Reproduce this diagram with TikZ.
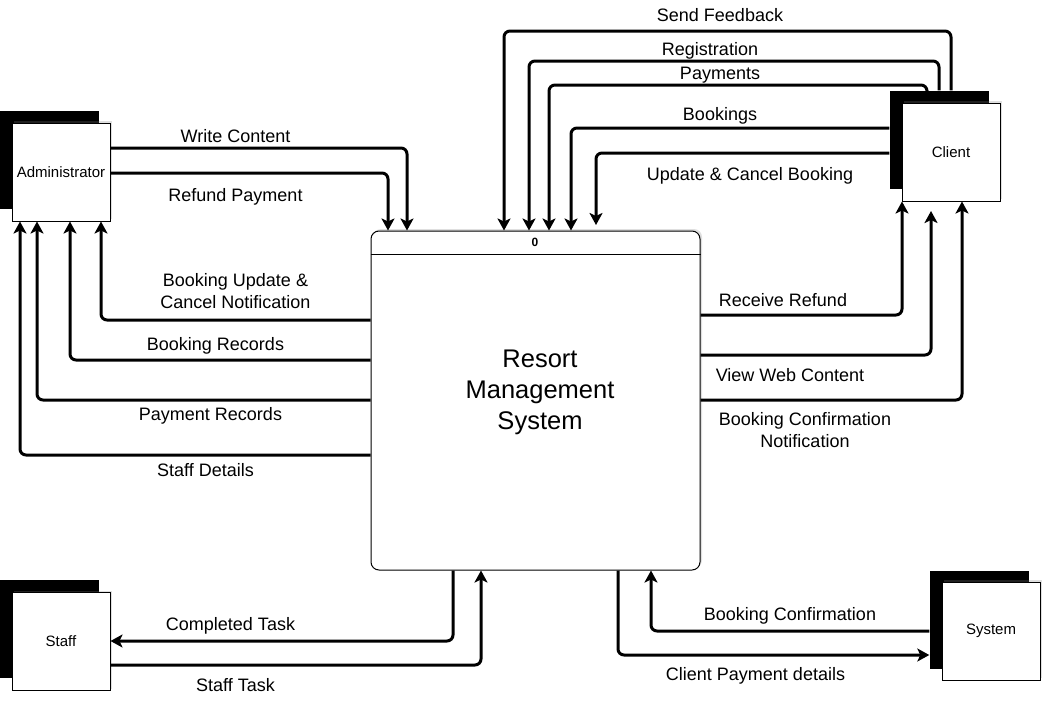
\documentclass[tikz,border=0pt]{standalone}
\usepackage{fontspec}
\setmainfont{Liberation Sans}
\usetikzlibrary{arrows.meta,shadows}
\begin{document}
\begin{tikzpicture}[x=1pt,y=-1pt,
  ent/.style={draw=black, line width=1, fill=white, minimum width=98, minimum height=98, inner sep=0, font=\fontsize{15}{18}\selectfont,
    drop shadow={opacity=0.25, shadow xshift=2, shadow yshift=-2}},
  entsh/.style={fill=black, minimum width=99, minimum height=98, inner sep=0},
  flow/.style={line width=3, rounded corners=6, -{Stealth[length=12,width=13,inset=3]}},
  lbl/.style={font=\fontsize{18}{22}\selectfont, inner sep=0, align=center, yshift=-1.5}]
\useasboundingbox (0,0) rectangle (1062,712);

% process
\node[draw, line width=1, rounded corners=8, minimum width=329, minimum height=339, inner sep=0, fill=white,
  drop shadow={opacity=0.25, shadow xshift=2, shadow yshift=-2}] (proc) at (535.5,400.5) {};
\draw[line width=1] (proc.west |- 0,254) -- (proc.east |- 0,254);
\node[font=\bfseries\fontsize{12}{14}\selectfont, inner sep=0] (pnum) at (535,242) {0};
\node[font=\fontsize{25.5}{31}\selectfont, align=center, inner sep=0] (ptitle) at (540,392) {Resort\\Management\\System};

% entities
\node[entsh] (adminsh) at (49.5,159.5) {};
\node[ent] (admin) at (61,172) {Administrator};
\node[entsh] (clientsh) at (939,139.5) {};
\node[ent] (client) at (951,152) {Client};
\node[entsh] (staffsh) at (49.5,628.5) {};
\node[ent] (staff) at (61,641.5) {Staff};
\node[entsh] (systemsh) at (979,619.5) {};
\node[ent] (system) at (991,631) {System};

\coordinate (ucb) at (596,225);
\coordinate (vwc) at (931,211);

% administrator flows
\draw[flow] (admin.east |- 0,148) -| (proc.north -| 407,0);
\draw[flow] (admin.east |- 0,173) -| (proc.north -| 388,0);
\draw[flow] (proc.west |- 0,320) -| (admin.south -| 101,0);
\draw[flow] (proc.west |- 0,360) -| (admin.south -| 70,0);
\draw[flow] (proc.west |- 0,400) -| (admin.south -| 37,0);
\draw[flow] (proc.west |- 0,455) -| (admin.south -| 20,0);

% client flows
\draw[flow] (clientsh.north -| 951,0) -- (951,31) -- (504,31) -- (proc.north -| 504,0);
\draw[flow] (clientsh.north -| 939,0) -- (939,61) -- (529,61) -- (proc.north -| 529,0);
\draw[flow] (clientsh.north -| 927,0) -- (927,85) -- (549,85) -- (proc.north -| 549,0);
\draw[flow] (clientsh.west |- 0,128) -| (proc.north -| 571,0);
\draw[flow] (clientsh.west |- 0,153) -| (ucb);
\draw[flow] (proc.east |- 0,315) -| (client.south -| 902,0);
\draw[flow] (proc.east |- 0,355) -| (vwc);
\draw[flow] (proc.east |- 0,400) -| (client.south -| 962,0);

% staff flows
\draw[flow] (proc.south -| 453,0) |- (staff.east |- 0,641);
\draw[flow] (staff.east |- 0,665) -| (proc.south -| 481,0);

% system flows
\draw[flow] (systemsh.west |- 0,631) -| (proc.south -| 651,0);
\draw[flow] (proc.south -| 618,0) |- (systemsh.west |- 0,655);

% labels
\node[lbl] (l1) at (235.5,135) {Write Content};
\node[lbl] (l2) at (235.5,195) {Refund Payment};
\node[lbl] (l3) at (235.5,290) {Booking Update \&\\Cancel Notification};
\node[lbl] (l4) at (215.5,344) {Booking Records};
\node[lbl] (l5) at (210.5,414) {Payment Records};
\node[lbl] (l6) at (205.5,469) {Staff Details};
\node[lbl] (l7) at (720,14) {Send Feedback};
\node[lbl] (l8) at (710,49) {Registration};
\node[lbl] (l9) at (720,74) {Payments};
\node[lbl] (l10) at (720,114) {Bookings};
\node[lbl] (l11) at (750,174) {Update \& Cancel Booking};
\node[lbl] (l12) at (783,299) {Receive Refund};
\node[lbl] (l13) at (790,374) {View Web Content};
\node[lbl] (l14) at (805,429) {Booking Confirmation\\Notification};
\node[lbl] (l15) at (230.5,624) {Completed Task};
\node[lbl] (l16) at (235.5,684) {Staff Task};
\node[lbl] (l17) at (790,614) {Booking Confirmation};
\node[lbl] (l18) at (755.5,674) {Client Payment details};
\end{tikzpicture}
\end{document}
